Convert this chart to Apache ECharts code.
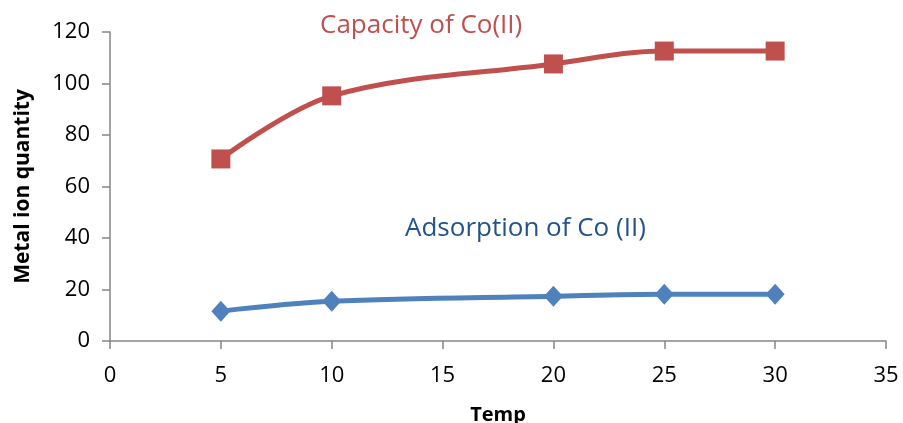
<!DOCTYPE html>
<html>
<head>
<meta charset="utf-8">
<script src="https://cdn.jsdelivr.net/npm/echarts@6/dist/echarts.min.js"></script>
<style>
  html, body { margin: 0; padding: 0; background: #fff; }
  #main { width: 903px; height: 423px; }
</style>
</head>
<body>
<div id="main"></div>
<script>
// 温度
var temps = [5, 10, 20, 25, 30];
// Capacity of Co(II)
var capacity = [70.7, 95.2, 107.6, 112.6, 112.6];
// Adsorption of Co (II)
var adsorption = [11.6, 15.4, 17.4, 18.2, 18.2];

var chart = echarts.init(document.getElementById('main'));

function pairs(xs, ys) {
    var out = [];
    for (var i = 0; i < xs.length; i++) {
        out.push([xs[i], ys[i]]);
    }
    return out;
}

var font = '"Open Sans", "Liberation Sans", sans-serif';

var option = {
    animation: false,
    backgroundColor: '#fff',
    grid: {
        left: 110,
        right: 17,
        top: 32,
        bottom: 82,
        outerBoundsMode: 'none'
    },
    xAxis: {
        type: 'value',
        min: 0,
        max: 35,
        interval: 5,
        name: 'Temp',
        nameLocation: 'middle',
        nameGap: 64,
        nameTextStyle: {color: '#000', fontSize: 20, fontWeight: 'bold', fontFamily: font},
        axisLine: {show: true, lineStyle: {color: '#868686', width: 1.5}},
        axisTick: {show: true, length: 8, lineStyle: {color: '#868686', width: 1.5}},
        axisLabel: {color: '#000', fontSize: 22, margin: 24, fontFamily: font},
        splitLine: {show: false}
    },
    yAxis: {
        type: 'value',
        min: 0,
        max: 120,
        interval: 20,
        name: 'Metal ion quantity',
        nameLocation: 'middle',
        nameGap: 76,
        nameTextStyle: {color: '#000', fontSize: 21, fontWeight: 'bold', fontFamily: font},
        axisLine: {show: true, lineStyle: {color: '#868686', width: 1.5}},
        axisTick: {show: true, length: 8, lineStyle: {color: '#868686', width: 1.5}},
        axisLabel: {color: '#000', fontSize: 22, margin: 20, fontFamily: font},
        splitLine: {show: false}
    },
    graphic: [
        {
            type: 'text',
            left: 320,
            top: 13,
            style: {text: 'Capacity of Co(II)', fill: '#c0504d', font: '26px ' + font}
        },
        {
            type: 'text',
            left: 405,
            top: 216,
            style: {text: 'Adsorption of Co (II)', fill: '#24528c', font: '26px ' + font}
        }
    ],
    series: [
        {
            name: 'Capacity of Co(II)',
            type: 'line',
            smooth: 0.35,
            symbol: 'rect',
            symbolSize: 19,
            itemStyle: {color: '#c0504d'},
            lineStyle: {color: '#c0504d', width: 5},
            data: pairs(temps, capacity)
        },
        {
            name: 'Adsorption of Co (II)',
            type: 'line',
            smooth: 0.35,
            symbol: 'diamond',
            symbolSize: [19, 21],
            itemStyle: {color: '#4f81bd'},
            lineStyle: {color: '#4f81bd', width: 5},
            data: pairs(temps, adsorption)
        }
    ]
};
chart.setOption(option, true);
</script>
</body>
</html>
